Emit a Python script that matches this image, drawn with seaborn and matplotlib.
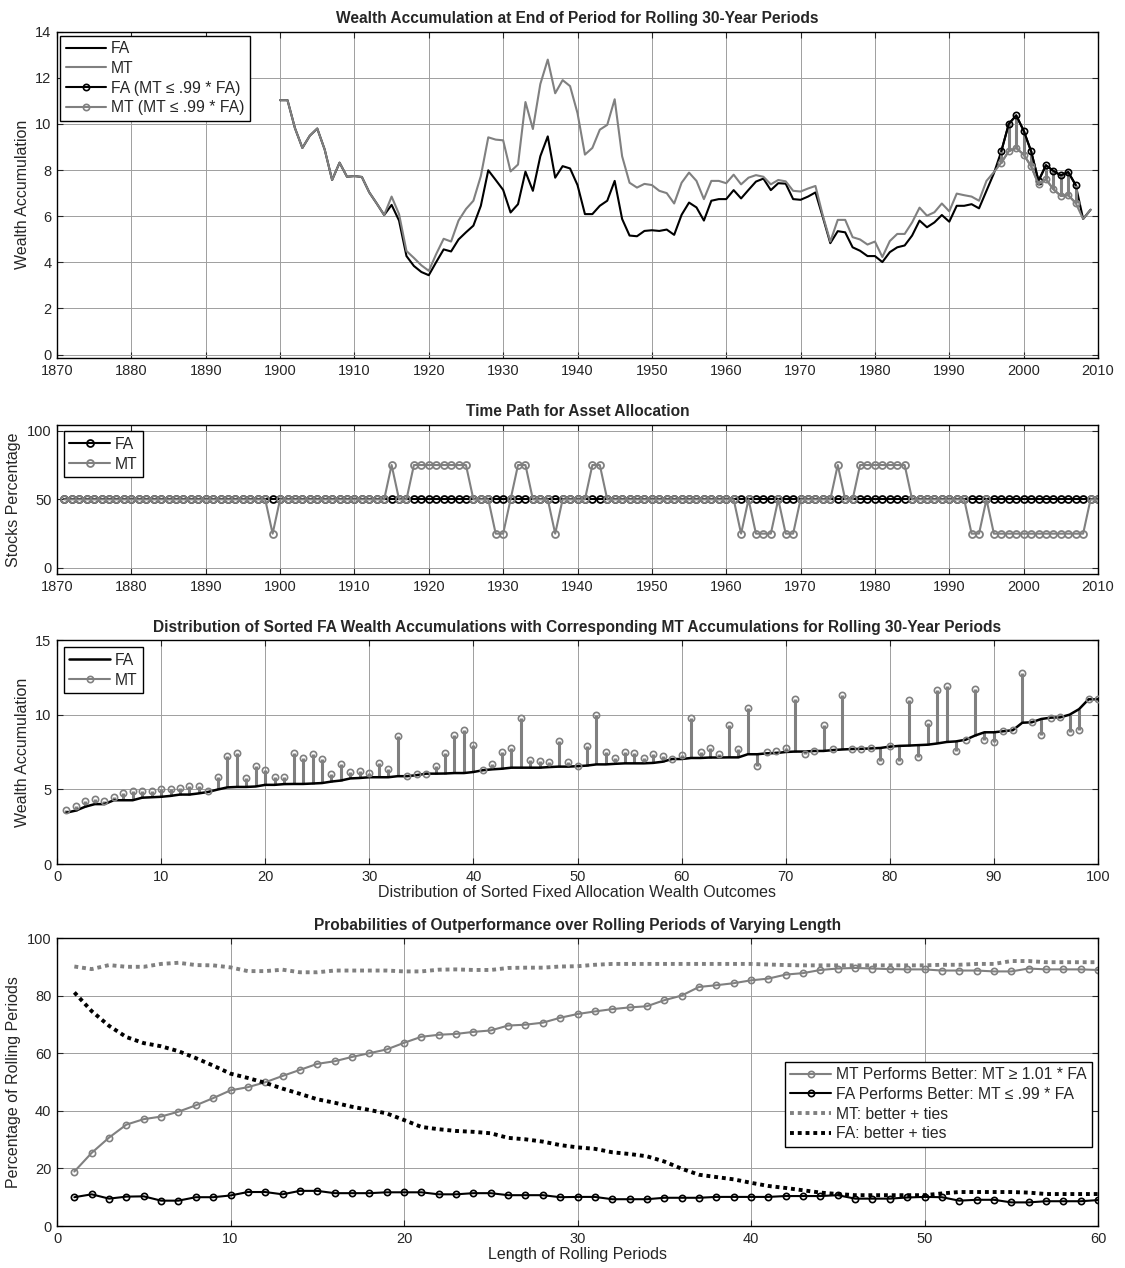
import numpy as np
import pandas as pd
import matplotlib
matplotlib.use("Agg")
import matplotlib.pyplot as plt
from matplotlib.lines import Line2D
import seaborn as sns

sns.set_style("ticks")
plt.rcParams["font.family"] = ["Liberation Sans", "DejaVu Sans"]
plt.rcParams["font.size"] = 10.5

GRAY = "0.5"
BLACK = "black"
TITLE_FS = 11.2
LABEL_FS = 11.5
LEGEND_FS = 11.3

# ---------------------------------------------------------------
# Panel 1: wealth at end of rolling 30-year periods (1900-2009)
# ---------------------------------------------------------------
years = list(range(1900, 2010))
fa_wealth = [
    11.03, 11.03, 9.82, 8.96, 9.49, 9.80, 8.89, 7.57, 8.32, 7.71,   # 1900s
    7.74, 7.70, 7.03, 6.55, 6.05, 6.49, 5.81, 4.27, 3.84, 3.58,     # 1910s
    3.44, 4.01, 4.56, 4.47, 4.99, 5.30, 5.59, 6.45, 7.99, 7.57,     # 1920s
    7.14, 6.16, 6.52, 7.93, 7.10, 8.60, 9.46, 7.67, 8.17, 8.07,     # 1930s
    7.35, 6.09, 6.09, 6.45, 6.67, 7.53, 5.88, 5.16, 5.13, 5.36,     # 1940s
    5.39, 5.36, 5.42, 5.19, 6.06, 6.59, 6.38, 5.81, 6.67, 6.74,     # 1950s
    6.74, 7.13, 6.77, 7.14, 7.50, 7.63, 7.13, 7.43, 7.41, 6.74,     # 1960s
    6.71, 6.85, 7.03, 5.95, 4.83, 5.35, 5.30, 4.65, 4.50, 4.27,     # 1970s
    4.27, 4.01, 4.44, 4.65, 4.73, 5.16, 5.81, 5.52, 5.73, 6.05,     # 1980s
    5.76, 6.45, 6.45, 6.52, 6.34, 7.10, 7.86, 8.82, 10.00, 10.37,   # 1990s
    9.71, 8.82, 7.53, 8.21, 7.96, 7.77, 7.91, 7.35, 5.88, 6.28,     # 2000s
]
mt_wealth = [
    11.03, 11.03, 9.82, 8.96, 9.49, 9.80, 8.89, 7.57, 8.32, 7.71,
    7.74, 7.70, 7.03, 6.55, 6.05, 6.85, 6.09, 4.49, 4.19, 3.87,
    3.63, 4.36, 5.02, 4.90, 5.81, 6.31, 6.67, 7.74, 9.42, 9.32,
    9.29, 7.94, 8.24, 10.95, 9.78, 11.73, 12.79, 11.33, 11.90, 11.64,
    10.47, 8.67, 8.96, 9.75, 9.96, 11.07, 8.60, 7.45, 7.24, 7.40,
    7.35, 7.10, 7.00, 6.55, 7.45, 7.89, 7.53, 6.74, 7.53, 7.53,
    7.43, 7.80, 7.38, 7.67, 7.78, 7.71, 7.38, 7.57, 7.51, 7.10,
    7.07, 7.20, 7.31, 6.02, 4.90, 5.84, 5.84, 5.09, 4.99, 4.77,
    4.90, 4.23, 4.92, 5.23, 5.23, 5.73, 6.37, 6.02, 6.17, 6.55,
    6.21, 6.98, 6.91, 6.85, 6.67, 7.53, 7.91, 8.32, 8.82, 8.96,
    8.67, 8.17, 7.38, 7.60, 7.17, 6.88, 6.91, 6.57, 5.88, 6.28,
]

# ---------------------------------------------------------------
# Panel 2: stock allocation path (1871-2010)
# ---------------------------------------------------------------
alloc_years = list(range(1871, 2011))
fa_alloc = [50] * len(alloc_years)
mt_alloc = [
    50, 50, 50, 50, 50, 50, 50, 50, 50, 50,   # 1871-1880
    50, 50, 50, 50, 50, 50, 50, 50, 50, 50,   # 1881-1890
    50, 50, 50, 50, 50, 50, 50, 50, 25, 50,   # 1891-1900
    50, 50, 50, 50, 50, 50, 50, 50, 50, 50,   # 1901-1910
    50, 50, 50, 50, 75, 50, 50, 75, 75, 75,   # 1911-1920
    75, 75, 75, 75, 75, 50, 50, 50, 25, 25,   # 1921-1930
    50, 75, 75, 50, 50, 50, 25, 50, 50, 50,   # 1931-1940
    50, 75, 75, 50, 50, 50, 50, 50, 50, 50,   # 1941-1950
    50, 50, 50, 50, 50, 50, 50, 50, 50, 50,   # 1951-1960
    50, 25, 50, 25, 25, 25, 50, 25, 25, 50,   # 1961-1970
    50, 50, 50, 50, 75, 50, 50, 75, 75, 75,   # 1971-1980
    75, 75, 75, 75, 50, 50, 50, 50, 50, 50,   # 1981-1990
    50, 50, 25, 25, 50, 25, 25, 25, 25, 25,   # 1991-2000
    25, 25, 25, 25, 25, 25, 25, 25, 50, 50,   # 2001-2010
]

# ---------------------------------------------------------------
# Panel 4: outperformance probabilities by rolling-period length
# ---------------------------------------------------------------
roll_len = list(range(1, 61))
mt_better = [
    18.9, 25.4, 30.7, 35.2, 37.1, 38.0, 39.7, 41.9, 44.4, 47.1,
    48.2, 49.9, 52.1, 54.2, 56.3, 57.2, 58.7, 60.0, 61.3, 63.6,
    65.7, 66.4, 66.7, 67.4, 67.9, 69.6, 69.9, 70.6, 72.3, 73.6,
    74.5, 75.3, 75.9, 76.3, 78.4, 80.0, 83.0, 83.6, 84.3, 85.3,
    85.9, 87.3, 87.8, 88.9, 89.4, 89.6, 89.4, 89.2, 89.1, 89.1,
    88.7, 88.7, 88.7, 88.4, 88.4, 89.4, 89.1, 89.1, 89.1, 88.9,
]
fa_better = [
    10.0, 11.0, 9.5, 10.2, 10.3, 8.8, 8.8, 10.0, 10.0, 10.6,
    11.8, 11.8, 11.0, 12.2, 12.2, 11.4, 11.4, 11.4, 11.7, 11.7,
    11.7, 11.0, 11.0, 11.4, 11.4, 10.7, 10.7, 10.7, 10.0, 10.1,
    10.1, 9.3, 9.3, 9.3, 9.8, 9.8, 9.8, 10.1, 10.1, 10.1,
    10.1, 10.4, 10.4, 10.4, 10.7, 9.5, 9.5, 9.5, 9.9, 10.1,
    10.0, 8.8, 9.1, 9.1, 8.2, 8.2, 8.6, 8.6, 8.6, 9.0,
]
mt_better_ties = [
    90.1, 89.2, 90.6, 90.0, 90.0, 91.0, 91.4, 90.6, 90.5, 89.8,
    88.5, 88.5, 89.0, 88.1, 88.1, 88.7, 88.7, 88.7, 88.7, 88.4,
    88.4, 89.0, 89.1, 88.9, 88.9, 89.6, 89.7, 89.7, 90.1, 90.2,
    90.7, 91.0, 91.0, 91.0, 91.0, 91.0, 91.0, 91.0, 91.0, 91.0,
    90.8, 90.6, 90.5, 90.5, 90.5, 90.5, 90.5, 90.5, 90.5, 90.5,
    90.7, 90.7, 91.0, 91.0, 92.0, 92.0, 91.6, 91.6, 91.6, 91.6,
]
fa_better_ties = [
    81.1, 74.6, 69.5, 65.6, 63.5, 62.4, 60.7, 58.3, 55.7, 52.9,
    51.4, 49.7, 47.7, 45.9, 44.0, 42.8, 41.4, 40.3, 39.1, 36.8,
    34.4, 33.6, 33.0, 32.7, 32.2, 30.6, 30.1, 29.3, 28.1, 27.3,
    26.8, 25.6, 25.0, 24.2, 22.4, 19.9, 17.8, 17.0, 16.2, 15.0,
    13.9, 13.2, 12.4, 11.6, 11.1, 10.7, 10.7, 10.7, 10.7, 10.7,
    11.3, 11.8, 11.8, 11.8, 11.8, 11.6, 11.1, 11.1, 11.1, 11.1,
]

# derived frames
wealth = pd.DataFrame({"year": years, "FA": fa_wealth, "MT": mt_wealth})
wealth["fa_wins"] = wealth["MT"] <= 0.99 * wealth["FA"]
sub = wealth[wealth["fa_wins"]]

srt = wealth.sort_values("FA", kind="stable").reset_index(drop=True)
srt["pos"] = (np.arange(len(srt)) + 1) * 100.0 / len(srt)

alloc = pd.DataFrame({"year": alloc_years, "FA": fa_alloc, "MT": mt_alloc})
prob = pd.DataFrame({"len": roll_len, "mt": mt_better, "fa": fa_better,
                     "mt_t": mt_better_ties, "fa_t": fa_better_ties})

W, H = 1125, 1268
fig = plt.figure(figsize=(W / 100, H / 100), dpi=100)
L, R = 57 / W, 1098 / W


def add_ax(top, bottom):
    return fig.add_axes([L, 1 - bottom / H, R - L, (bottom - top) / H])


def style(ax):
    ax.grid(True, color="0.62", lw=0.7)
    ax.set_axisbelow(True)
    ax.tick_params(direction="in", top=True, right=True, length=4,
                   width=0.8, labelsize=10.5, pad=4)
    for s in ax.spines.values():
        s.set_visible(True)
        s.set_color("black")
        s.set_linewidth(1.0)


def legend(ax, handles, labels, **kw):
    lg = ax.legend(handles, labels, fancybox=False, framealpha=1,
                   edgecolor="black", fontsize=LEGEND_FS, handlelength=2.6,
                   handletextpad=0.3, borderpad=0.35, labelspacing=0.3,
                   borderaxespad=0, **kw)
    lg.get_frame().set_linewidth(1.0)
    return lg


mk = dict(marker="o", markerfacecolor="none", markersize=4.5, markeredgewidth=1.2)

# ---- Panel 1 ----
ax1 = add_ax(31.7, 358)
sns.lineplot(data=wealth, x="year", y="FA", ax=ax1, color=BLACK, lw=1.5, legend=False)
sns.lineplot(data=wealth, x="year", y="MT", ax=ax1, color=GRAY, lw=1.5, legend=False)
ax1.vlines(sub["year"], sub["MT"], sub["FA"], colors=GRAY, lw=2.2, zorder=3)
sns.lineplot(data=sub, x="year", y="FA", ax=ax1, color=BLACK, lw=1.5,
             markeredgecolor=BLACK, legend=False, zorder=4, **mk)
sns.lineplot(data=sub, x="year", y="MT", ax=ax1, color=GRAY, lw=1.5,
             markeredgecolor=GRAY, legend=False, zorder=4, **mk)
ax1.set_xlim(1870, 2010)
ax1.set_ylim(-0.15, 14)
ax1.set_xticks(range(1870, 2011, 10))
ax1.set_yticks(range(0, 15, 2))
ax1.set_xlabel("")
ax1.set_ylabel("Wealth Accumulation", fontsize=LABEL_FS)
ax1.set_title("Wealth Accumulation at End of Period for Rolling 30-Year Periods",
              fontsize=TITLE_FS, fontweight="bold", pad=6)
style(ax1)
legend(ax1,
       [Line2D([], [], color=BLACK, lw=1.5), Line2D([], [], color=GRAY, lw=1.5),
        Line2D([], [], color=BLACK, lw=1.5, markeredgecolor=BLACK, **mk),
        Line2D([], [], color=GRAY, lw=1.5, markeredgecolor=GRAY, **mk)],
       ["FA", "MT", "FA (MT \u2264 .99 * FA)", "MT (MT \u2264 .99 * FA)"],
       loc="upper left", bbox_to_anchor=(0.003, 0.988))

# ---- Panel 2 ----
mk2 = dict(marker="o", markerfacecolor="none", markersize=5, markeredgewidth=1.3)
ax2 = add_ax(424.7, 574)
sns.lineplot(data=alloc, x="year", y="FA", ax=ax2, color=BLACK, lw=1.5,
             markeredgecolor=BLACK, legend=False, **mk2)
sns.lineplot(data=alloc, x="year", y="MT", ax=ax2, color=GRAY, lw=1.5,
             markeredgecolor=GRAY, legend=False, **mk2)
ax2.set_xlim(1870, 2010)
ax2.set_ylim(-4.4, 104.4)
ax2.set_xticks(range(1870, 2011, 10))
ax2.set_yticks([0, 50, 100])
ax2.set_xlabel("")
ax2.set_ylabel("Stocks Percentage", fontsize=LABEL_FS)
ax2.set_title("Time Path for Asset Allocation", fontsize=TITLE_FS,
              fontweight="bold", pad=6)
style(ax2)
legend(ax2,
       [Line2D([], [], color=BLACK, lw=1.5, markeredgecolor=BLACK, **mk2),
        Line2D([], [], color=GRAY, lw=1.5, markeredgecolor=GRAY, **mk2)],
       ["FA", "MT"], loc="upper left", bbox_to_anchor=(0.0067, 0.955))

# ---- Panel 3 ----
ax3 = add_ax(640, 864)
ax3.vlines(srt["pos"], srt["FA"], srt["MT"], colors=GRAY, lw=2.2, zorder=2)
sns.lineplot(data=srt, x="pos", y="FA", ax=ax3, color=BLACK, lw=1.8,
             legend=False, zorder=3)
sns.lineplot(data=srt, x="pos", y="MT", ax=ax3, color=GRAY, linestyle="none",
             markeredgecolor=GRAY, legend=False, zorder=4, **mk)
ax3.set_xlim(0, 100)
ax3.set_ylim(0, 15)
ax3.set_xticks(range(0, 101, 10))
ax3.set_yticks([0, 5, 10, 15])
ax3.set_xlabel("Distribution of Sorted Fixed Allocation Wealth Outcomes",
               fontsize=LABEL_FS, labelpad=1)
ax3.set_ylabel("Wealth Accumulation", fontsize=LABEL_FS)
ax3.set_title("Distribution of Sorted FA Wealth Accumulations with Corresponding "
              "MT Accumulations for Rolling 30-Year Periods",
              fontsize=TITLE_FS, fontweight="bold", pad=6)
style(ax3)
legend(ax3,
       [Line2D([], [], color=BLACK, lw=1.8),
        Line2D([], [], color=GRAY, lw=1.5, markeredgecolor=GRAY, **mk)],
       ["FA", "MT"], loc="upper left", bbox_to_anchor=(0.0067, 0.967))

# ---- Panel 4 ----
dots = (0, (1, 1))
ax4 = add_ax(938, 1226)
sns.lineplot(data=prob, x="len", y="mt", ax=ax4, color=GRAY, lw=1.5,
             markeredgecolor=GRAY, legend=False, **mk)
sns.lineplot(data=prob, x="len", y="fa", ax=ax4, color=BLACK, lw=1.5,
             markeredgecolor=BLACK, legend=False, **mk)
sns.lineplot(data=prob, x="len", y="mt_t", ax=ax4, color=GRAY, lw=2.8,
             linestyle=dots, legend=False)
sns.lineplot(data=prob, x="len", y="fa_t", ax=ax4, color=BLACK, lw=2.8,
             linestyle=dots, legend=False)
ax4.set_xlim(0, 60)
ax4.set_ylim(0, 100)
ax4.set_xticks(range(0, 61, 10))
ax4.set_yticks(range(0, 101, 20))
ax4.set_xlabel("Length of Rolling Periods", fontsize=LABEL_FS, labelpad=1)
ax4.set_ylabel("Percentage of Rolling Periods", fontsize=LABEL_FS)
ax4.set_title("Probabilities of Outperformance over Rolling Periods of Varying Length",
              fontsize=TITLE_FS, fontweight="bold", pad=6)
style(ax4)
legend(ax4,
       [Line2D([], [], color=GRAY, lw=1.5, markeredgecolor=GRAY, **mk),
        Line2D([], [], color=BLACK, lw=1.5, markeredgecolor=BLACK, **mk),
        Line2D([], [], color=GRAY, lw=2.8, linestyle=dots),
        Line2D([], [], color=BLACK, lw=2.8, linestyle=dots)],
       ["MT Performs Better: MT \u2265 1.01 * FA", "FA Performs Better: MT \u2264 .99 * FA",
        "MT: better + ties", "FA: better + ties"],
       loc="lower right", bbox_to_anchor=(0.994, 0.275))

fig.savefig("out.png", dpi=100)
